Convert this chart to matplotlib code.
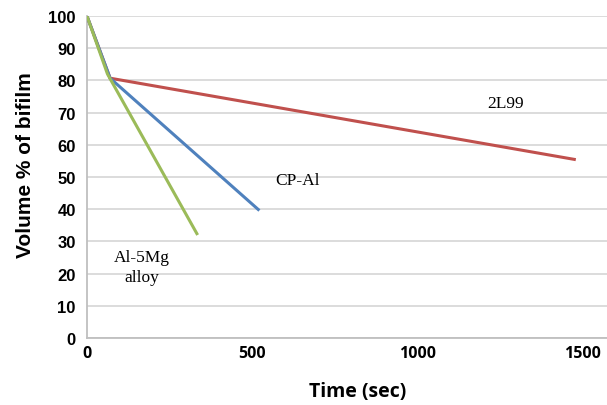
import numpy as np
import matplotlib.pyplot as plt

# time (sec) and volume % of bifilm for each alloy
t_2l99 = [0, 70, 1480]
v_2l99 = [100, 80.7, 55.4]

t_cpal = [0, 70, 522]
v_cpal = [100, 80.7, 39.6]

t_al5mg = [0, 62, 335]
v_al5mg = [100, 82, 32]

xticks = [0, 500, 1000, 1500]
yticks = np.arange(0, 101, 10)

fig = plt.figure(figsize=(6.07, 4.06), dpi=100)
ax = fig.add_axes([0.1433, 0.165, 0.857, 0.793])

ax.plot(t_2l99, v_2l99, color='#c0504d', lw=2.2, solid_capstyle='butt', zorder=3)
ax.plot(t_cpal, v_cpal, color='#4f81bd', lw=2.2, solid_capstyle='butt', zorder=3)
ax.plot(t_al5mg, v_al5mg, color='#9bbb59', lw=2.2, solid_capstyle='butt', zorder=4)

ax.set_xlim(0, 1575)
ax.set_ylim(0, 100)
ax.set_xticks(xticks)
ax.set_yticks(yticks)
ax.grid(axis='y', color='#d9d9d9', lw=1.3)
ax.set_axisbelow(True)
ax.tick_params(length=0)
ax.tick_params(axis='x', pad=5)
ax.tick_params(axis='y', pad=8)
for lab in ax.get_xticklabels():
    lab.set_fontfamily('Open Sans')
    lab.set_fontweight('bold')
    lab.set_fontsize(11.5)
for lab in ax.get_yticklabels():
    lab.set_fontfamily('Liberation Sans')
    lab.set_fontweight('bold')
    lab.set_fontsize(12)

for s in ['top', 'right']:
    ax.spines[s].set_visible(False)
ax.spines['left'].set_color('#bfbfbf')
ax.spines['bottom'].set_color('#bfbfbf')
ax.spines['left'].set_linewidth(1.3)
ax.spines['bottom'].set_linewidth(1.3)

ax.set_xlabel('Time (sec)', fontfamily='Open Sans', fontweight='bold', fontsize=14)
ax.xaxis.set_label_coords(0.52, -0.135)
ax.set_ylabel('Volume % of bifilm', fontfamily='Liberation Sans', fontweight='bold', fontsize=15)
ax.yaxis.set_label_coords(-0.1, 0.54)

ax.text(1267, 72.9, '2L99', fontfamily='Liberation Serif', fontsize=12.5, ha='center', va='center')
ax.text(636, 49, 'CP-Al', fontfamily='Liberation Serif', fontsize=12.5, ha='center', va='center')
ax.text(167, 22, 'Al-5Mg\nalloy', fontfamily='Liberation Serif', fontsize=12.5, ha='center', va='center',
        linespacing=1.3)

plt.savefig('out.png')
